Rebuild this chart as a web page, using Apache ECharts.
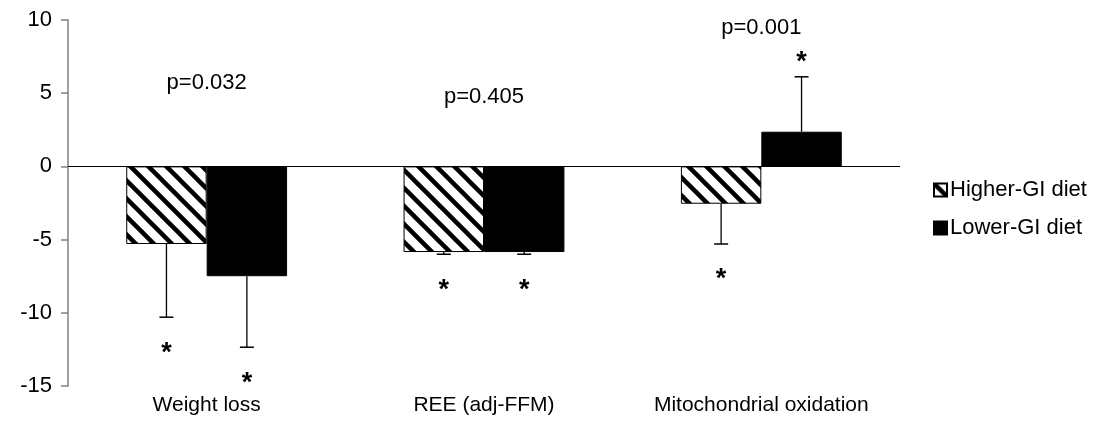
<!DOCTYPE html>
<html>
<head>
<meta charset="utf-8">
<script src="https://cdn.jsdelivr.net/npm/echarts@6/dist/echarts.min.js"></script>
<style>
  html, body { margin: 0; padding: 0; background: #fff; }
  #chart { width: 1097px; height: 432px; }
</style>
</head>
<body>
<div id="chart"></div>
<script>
const categories = ['Weight loss', 'REE (adj-FFM)', 'Mitochondrial oxidation']
const higherGI = [-5.3, -5.85, -2.55]
const higherErr = [5.0, 0.15, 2.75]
const lowerGI = [-7.5, -5.85, 2.37]
const lowerErr = [4.85, 0.15, 3.75]
const pValues = ['p=0.032', 'p=0.405', 'p=0.001']
const pLabelY = [5.68, 4.73, 9.47]
const yTicks = { min: -15, max: 10, interval: 5 }

const FONT = '"Liberation Sans", Arial, sans-serif'
const BAR_W = 0.29 // fraction of category band

// diagonal hatch pattern for Higher-GI bars
function makeHatch() {
  const s = 18
  const c = document.createElement('canvas')
  c.width = s
  c.height = s
  const g = c.getContext('2d')
  g.fillStyle = '#fff'
  g.fillRect(0, 0, s, s)
  g.strokeStyle = '#000'
  g.lineWidth = 4.5
  for (const k of [-1, 0, 1]) {
    g.beginPath()
    g.moveTo(k * s - 6, -6)
    g.lineTo(k * s + s + 6, s + 6)
    g.stroke()
  }
  return c
}

// error bar (one-sided, away from zero) plus significance star
function errorSeries(values, errs, side) {
  return {
    type: 'custom',
    silent: true,
    z: 5,
    data: values.map((v, i) => [i, v, errs[i]]),
    renderItem: (params, api) => {
      const v = api.value(1)
      const e = api.value(2)
      const end = v + Math.sign(v) * e
      const base = api.coord([api.value(0), v])
      const tip = api.coord([api.value(0), end])
      const band = api.size([1, 0])[0]
      const x = base[0] + side * band * BAR_W / 2
      const cap = 7
      const starY = v < 0 ? tip[1] + 36 : tip[1] - 14
      return {
        type: 'group',
        children: [
          { type: 'line', shape: { x1: x, y1: base[1], x2: x, y2: tip[1] },
            style: { stroke: '#000', lineWidth: 1.3 } },
          { type: 'line', shape: { x1: x - cap, y1: tip[1], x2: x + cap, y2: tip[1] },
            style: { stroke: '#000', lineWidth: 1.5 } },
          { type: 'text', x: x, y: starY,
            style: { text: '*', fill: '#000', font: 'bold 27px ' + FONT, align: 'center', verticalAlign: 'middle' } }
        ]
      }
    }
  }
}

const chart = echarts.init(document.getElementById('chart'))

chart.setOption({
  animation: false,
  backgroundColor: '#fff',
  grid: { left: 68, right: 197, top: 20, bottom: 46 },
  legend: {
    data: ['Higher-GI diet', 'Lower-GI diet'],
    orient: 'vertical',
    left: 928,
    top: 174,
    icon: 'rect',
    itemWidth: 13,
    itemHeight: 13,
    itemGap: 16,
    textStyle: { color: '#000', fontSize: 22, lineHeight: 22, fontFamily: FONT, padding: [0, 0, 0, -2] }
  },
  xAxis: {
    type: 'category',
    data: categories,
    axisLine: { show: false, onZero: false },
    axisTick: { show: false },
    axisLabel: { color: '#000', fontSize: 21, fontFamily: FONT, margin: 9, interval: 0, hideOverlap: false }
  },
  yAxis: {
    type: 'value',
    min: yTicks.min,
    max: yTicks.max,
    interval: yTicks.interval,
    splitLine: { show: false },
    axisLine: { show: true, lineStyle: { color: '#808080', width: 1.5 } },
    axisTick: { show: true, length: 7, lineStyle: { color: '#808080', width: 1.5 } },
    axisLabel: { color: '#000', fontSize: 22, fontFamily: FONT, margin: 16 }
  },
  series: [
    {
      name: 'Higher-GI diet',
      type: 'bar',
      data: higherGI,
      barWidth: BAR_W * 100 + '%',
      barGap: '0%',
      itemStyle: {
        color: { image: makeHatch(), repeat: 'repeat' },
        borderColor: '#000',
        borderWidth: 1
      },
      markLine: {
        silent: true,
        symbol: ['none', 'none'],
        label: { show: false },
        lineStyle: { color: '#000', width: 1.2, type: 'solid' },
        data: [{ yAxis: 0 }]
      }
    },
    {
      name: 'Lower-GI diet',
      type: 'bar',
      data: lowerGI,
      barWidth: BAR_W * 100 + '%',
      barGap: '0%',
      itemStyle: { color: '#000', borderColor: '#000', borderWidth: 1 }
    },
    errorSeries(higherGI, higherErr, -1),
    errorSeries(lowerGI, lowerErr, 1),
    {
      type: 'custom',
      silent: true,
      data: pLabelY.map((y, i) => [i, y]),
      renderItem: (params, api) => {
        const pt = api.coord([api.value(0), api.value(1)])
        return {
          type: 'text', x: pt[0], y: pt[1],
          style: { text: pValues[params.dataIndex], fill: '#000', font: '22px ' + FONT,
            align: 'center', verticalAlign: 'middle' }
        }
      }
    }
  ]
})
</script>
</body>
</html>
